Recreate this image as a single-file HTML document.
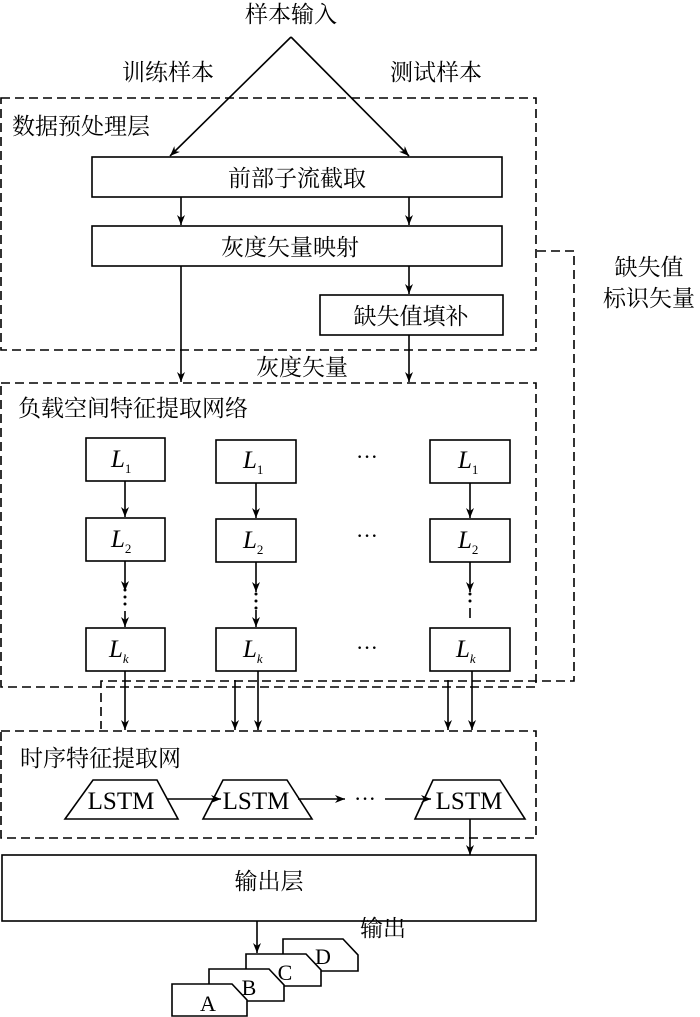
<!DOCTYPE html>
<html><head><meta charset="utf-8"><style>
html,body{margin:0;padding:0;background:#fff;}
svg{display:block;}
text{font-family:"Liberation Serif","Noto Serif CJK SC","Noto Sans CJK SC",serif;fill:#000;}
.cj{font-family:"Noto Serif CJK SC","Noto Sans CJK SC",serif;font-size:23px;}
</style></head><body>
<svg width="700" height="1017" viewBox="0 0 700 1017" xmlns="http://www.w3.org/2000/svg">
<defs>
<marker id="a" viewBox="0 0 10 10" refX="10" refY="5" markerWidth="10" markerHeight="10" markerUnits="userSpaceOnUse" orient="auto"><path d="M0,1 L10,5 L0,9 L3,5 Z" fill="#000"/></marker>
</defs>
<g stroke="#000" stroke-width="1.6" fill="none">
<line x1="291" y1="37" x2="170" y2="156" marker-end="url(#a)"/>
<line x1="291" y1="37" x2="409" y2="156" marker-end="url(#a)"/>
<g stroke-dasharray="9,5">
<rect x="1" y="98" width="535" height="252"/>
<rect x="1" y="383" width="535" height="304"/>
<rect x="1" y="731" width="535" height="107"/>
<polyline points="537,251 574,251 574,681 101,681 101,729"/>
</g>
<rect x="92" y="157" width="410" height="40" fill="#fff"/>
<rect x="92" y="226" width="410" height="40" fill="#fff"/>
<rect x="320" y="295" width="183" height="40" fill="#fff"/>
<line x1="181" y1="197" x2="181" y2="225" marker-end="url(#a)"/>
<line x1="409" y1="197" x2="409" y2="225" marker-end="url(#a)"/>
<line x1="409" y1="266" x2="409" y2="294" marker-end="url(#a)"/>
<line x1="181" y1="266" x2="181" y2="382" marker-end="url(#a)"/>
<line x1="409" y1="335" x2="409" y2="382" marker-end="url(#a)"/>
<rect x="86" y="438" width="79" height="43"/>
<rect x="86" y="518" width="79" height="43"/>
<rect x="86" y="628" width="79" height="43"/>
<rect x="216" y="440" width="80" height="43"/>
<rect x="216" y="519" width="80" height="43"/>
<rect x="216" y="628" width="80" height="43"/>
<rect x="430" y="440" width="80" height="43"/>
<rect x="430" y="519" width="80" height="43"/>
<rect x="430" y="628" width="80" height="43"/>
<line x1="125" y1="481" x2="125" y2="517" marker-end="url(#a)"/>
<line x1="256" y1="483" x2="256" y2="518" marker-end="url(#a)"/>
<line x1="470" y1="483" x2="470" y2="518" marker-end="url(#a)"/>
<line x1="125" y1="561" x2="125" y2="591" marker-end="url(#a)"/>
<line x1="256" y1="562" x2="256" y2="592" marker-end="url(#a)"/>
<line x1="470" y1="562" x2="470" y2="592" marker-end="url(#a)"/>
<line x1="125" y1="611" x2="125" y2="627" marker-end="url(#a)"/>
<line x1="256" y1="610" x2="256" y2="627" marker-end="url(#a)"/>
<line x1="470" y1="608" x2="470" y2="618"/>
<line x1="125" y1="671" x2="125" y2="730" marker-end="url(#a)"/>
<line x1="235" y1="680" x2="235" y2="730" marker-end="url(#a)"/>
<line x1="258" y1="671" x2="258" y2="730" marker-end="url(#a)"/>
<line x1="448" y1="680" x2="448" y2="730" marker-end="url(#a)"/>
<line x1="472" y1="671" x2="472" y2="730" marker-end="url(#a)"/>
<polygon points="93,780 157,780 178,819 65,819"/>
<polygon points="223,780 287,780 312,819 203,819"/>
<polygon points="433,780 500,780 525,819 415,819"/>
<line x1="167" y1="799" x2="221" y2="799" marker-end="url(#a)"/>
<line x1="298" y1="799" x2="345" y2="799" marker-end="url(#a)"/>
<line x1="385" y1="799" x2="431" y2="799" marker-end="url(#a)"/>
<line x1="470" y1="819" x2="470" y2="855" marker-end="url(#a)"/>
<rect x="2" y="855" width="534" height="66"/>
<line x1="257" y1="921" x2="257" y2="953" marker-end="url(#a)"/>
<g fill="#fff">
<polygon points="283,939 343,939 358,955 358,971 283,971"/>
<polygon points="246,954 306,954 321,970 321,986 246,986"/>
<polygon points="209,969 269,969 284,985 284,1001 209,1001"/>
<polygon points="172,984 232,984 247,1000 247,1016 172,1016"/>
</g>
</g>
<text class="cj" x="291" y="22" text-anchor="middle">样本输入</text>
<text class="cj" x="168" y="80" text-anchor="middle">训练样本</text>
<text class="cj" x="436" y="80" text-anchor="middle">测试样本</text>
<text class="cj" x="12" y="134">数据预处理层</text>
<text class="cj" x="297" y="186" text-anchor="middle">前部子流截取</text>
<text class="cj" x="290" y="255" text-anchor="middle">灰度矢量映射</text>
<text class="cj" x="411" y="324" text-anchor="middle">缺失值填补</text>
<text class="cj" x="302" y="375" text-anchor="middle">灰度矢量</text>
<text class="cj" x="649" y="275" text-anchor="middle">缺失值</text>
<text class="cj" x="649" y="306" text-anchor="middle">标识矢量</text>
<text class="cj" x="18" y="416">负载空间特征提取网络</text>
<text class="cj" x="20" y="766">时序特征提取网</text>
<text class="cj" x="269" y="889" text-anchor="middle">输出层</text>
<text class="cj" x="360" y="936">输出</text>
<g font-size="25" font-style="italic">
<text x="111" y="467">L<tspan font-size="13" font-style="normal" dy="6">1</tspan></text>
<text x="111" y="547">L<tspan font-size="13" font-style="normal" dy="6">2</tspan></text>
<text x="109" y="657">L<tspan font-size="13" font-style="italic" dy="6">k</tspan></text>
<text x="243" y="468">L<tspan font-size="13" font-style="normal" dy="6">1</tspan></text>
<text x="243" y="548">L<tspan font-size="13" font-style="normal" dy="6">2</tspan></text>
<text x="243" y="657">L<tspan font-size="13" font-style="italic" dy="6">k</tspan></text>
<text x="458" y="468">L<tspan font-size="13" font-style="normal" dy="6">1</tspan></text>
<text x="458" y="548">L<tspan font-size="13" font-style="normal" dy="6">2</tspan></text>
<text x="456" y="657">L<tspan font-size="13" font-style="italic" dy="6">k</tspan></text>
</g>
<g font-size="22">
<text x="367" y="464" text-anchor="middle">···</text>
<text x="367" y="543" text-anchor="middle">···</text>
<text x="367" y="655" text-anchor="middle">···</text>
<text x="365" y="806" text-anchor="middle">···</text>
</g>
<g fill="#000">
<circle cx="125" cy="597" r="1.5"/><circle cx="125" cy="604" r="1.5"/><circle cx="125" cy="590" r="1.5"/>
<circle cx="256" cy="594" r="1.5"/><circle cx="256" cy="601" r="1.5"/><circle cx="256" cy="608" r="1.5"/>
<circle cx="470" cy="594" r="1.5"/><circle cx="470" cy="601" r="1.5"/>
</g>
<g font-size="25">
<text x="121" y="809" text-anchor="middle">LSTM</text>
<text x="256" y="809" text-anchor="middle">LSTM</text>
<text x="469" y="809" text-anchor="middle">LSTM</text>
</g>
<g font-size="22">
<text x="208" y="1011" text-anchor="middle">A</text>
<text x="249" y="995" text-anchor="middle">B</text>
<text x="285" y="980" text-anchor="middle">C</text>
<text x="323" y="964" text-anchor="middle">D</text>
</g>
</svg>
</body></html>
